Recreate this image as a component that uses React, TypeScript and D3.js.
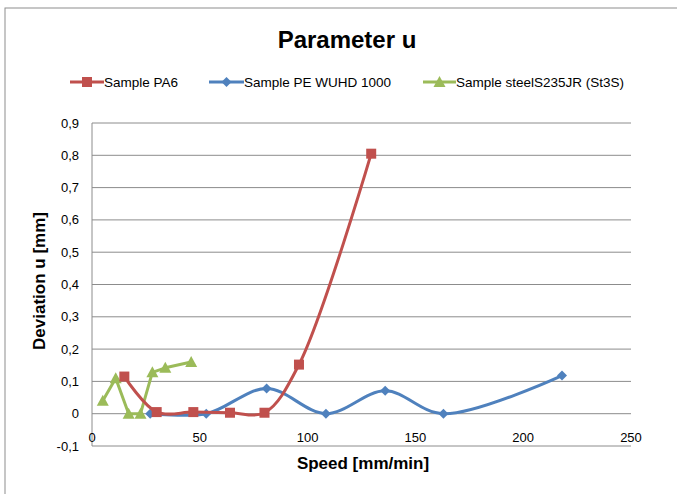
import React from "react";
import * as d3 from "d3";

const paSpeed = [15, 30, 47, 64, 80, 96, 129.5];
const paDev = [0.115, 0.005, 0.005, 0.003, 0.003, 0.152, 0.805];
const peSpeed = [27, 53, 81, 108.5, 136, 163, 218];
const peDev = [0.0, 0.0, 0.078, 0.0, 0.071, 0.0, 0.118];
const stSpeed = [5, 11, 17, 22.5, 28, 34, 46];
const stDev = [0.04, 0.11, 0.0, 0.0, 0.128, 0.142, 0.16];
const xTicks = [0, 50, 100, 150, 200, 250];
const yTicks = [-0.1, 0, 0.1, 0.2, 0.3, 0.4, 0.5, 0.6, 0.7, 0.8, 0.9];
const seriesNames = ["Sample PA6", "Sample PE WUHD 1000", "Sample steelS235JR (St3S)"];

const RED = "#C0504D";
const BLUE = "#4F81BD";
const GREEN = "#9BBB59";
const GRID = "#8C8C8C";
const FONT = "'Liberation Sans', Arial, sans-serif";

const x = d3.scaleLinear().domain([0, 250]).range([92, 631]);
const y = d3.scaleLinear().domain([-0.1, 0.9]).range([446, 123]);

const fmt = (v: number) => {
  if (Math.abs(v) < 1e-9) return "0";
  return d3.format(".1f")(v).replace(".", ",").replace("−", "-");
};

type Pt = [number, number];
const zip = (a: number[], b: number[]): Pt[] => a.map((v, i) => [v, b[i]]);

const smooth = d3
  .line<Pt>()
  .x((d) => x(d[0]))
  .y((d) => y(d[1]))
  .curve(d3.curveCatmullRom.alpha(0.5));
const straight = d3
  .line<Pt>()
  .x((d) => x(d[0]))
  .y((d) => y(d[1]));

const square = (cx: number, cy: number, color: string, k: string) => (
  <rect key={k} x={cx - 5} y={cy - 5} width={10} height={10} fill={color} />
);
const diamond = (cx: number, cy: number, color: string, k: string) => (
  <path key={k} d={`M${cx},${cy - 5}L${cx + 5},${cy}L${cx},${cy + 5}L${cx - 5},${cy}Z`} fill={color} />
);
const triangle = (cx: number, cy: number, color: string, k: string) => (
  <path key={k} d={`M${cx},${cy - 6}L${cx + 6},${cy + 5}L${cx - 6},${cy + 5}Z`} fill={color} />
);

export default function App() {
  const pa = zip(paSpeed, paDev);
  const pe = zip(peSpeed, peDev);
  const st = zip(stSpeed, stDev);
  const legendY = 82;
  const legend = [
    { x0: 70, x1: 104, color: RED, mk: square },
    { x0: 209, x1: 244, color: BLUE, mk: diamond },
    { x0: 423, x1: 456, color: GREEN, mk: triangle },
  ];
  return (
    <svg
      width={677}
      height={494}
      style={{ position: "absolute", left: 0, top: 0, background: "#fff" }}
      fontFamily={FONT}
    >
      <rect x={0} y={0} width={677} height={494} fill="#fff" />
      <rect x={5} y={8} width={700} height={520} fill="none" stroke="#8E8E8E" strokeWidth={1} />
      <text x={347} y={48} textAnchor="middle" fontSize={24} fontWeight="bold" fill="#000">
        Parameter u
      </text>
      {legend.map((l, i) => (
        <g key={i}>
          <line x1={l.x0} x2={l.x1} y1={legendY} y2={legendY} stroke={l.color} strokeWidth={3} />
          {l.mk((l.x0 + l.x1) / 2, legendY, l.color, "m" + i)}
          <text x={l.x1} y={legendY + 4.5} fontSize={13.5} fill="#000">
            {seriesNames[i]}
          </text>
        </g>
      ))}
      {yTicks.map((t) => (
        <g key={t}>
          <line x1={x(0)} x2={x(250)} y1={y(t)} y2={y(t)} stroke={GRID} strokeWidth={1} />
          <text x={79} y={y(t) + 4.5} textAnchor="end" fontSize={13} fill="#000">
            {fmt(t)}
          </text>
        </g>
      ))}
      <line x1={x(0)} x2={x(0)} y1={y(0.9)} y2={y(-0.1)} stroke={GRID} strokeWidth={1} />
      {xTicks.map((t) => (
        <text key={t} x={x(t)} y={442} textAnchor="middle" fontSize={13} fill="#000">
          {t}
        </text>
      ))}
      <text x={363} y={469} textAnchor="middle" fontSize={17} fontWeight="bold" fill="#000">
        Speed [mm/min]
      </text>
      <text
        transform={`translate(45,281) rotate(-90)`}
        textAnchor="middle"
        fontSize={17}
        fontWeight="bold"
        fill="#000"
      >
        Deviation u [mm]
      </text>
      <path d={straight(st) || ""} fill="none" stroke={GREEN} strokeWidth={3} strokeLinejoin="round" />
      {st.map((d, i) => triangle(x(d[0]), y(d[1]), GREEN, "st" + i))}
      <path d={smooth(pe) || ""} fill="none" stroke={BLUE} strokeWidth={3} strokeLinejoin="round" />
      {pe.map((d, i) => diamond(x(d[0]), y(d[1]), BLUE, "pe" + i))}
      <path d={smooth(pa) || ""} fill="none" stroke={RED} strokeWidth={3} strokeLinejoin="round" />
      {pa.map((d, i) => square(x(d[0]), y(d[1]), RED, "pa" + i))}
    </svg>
  );
}
